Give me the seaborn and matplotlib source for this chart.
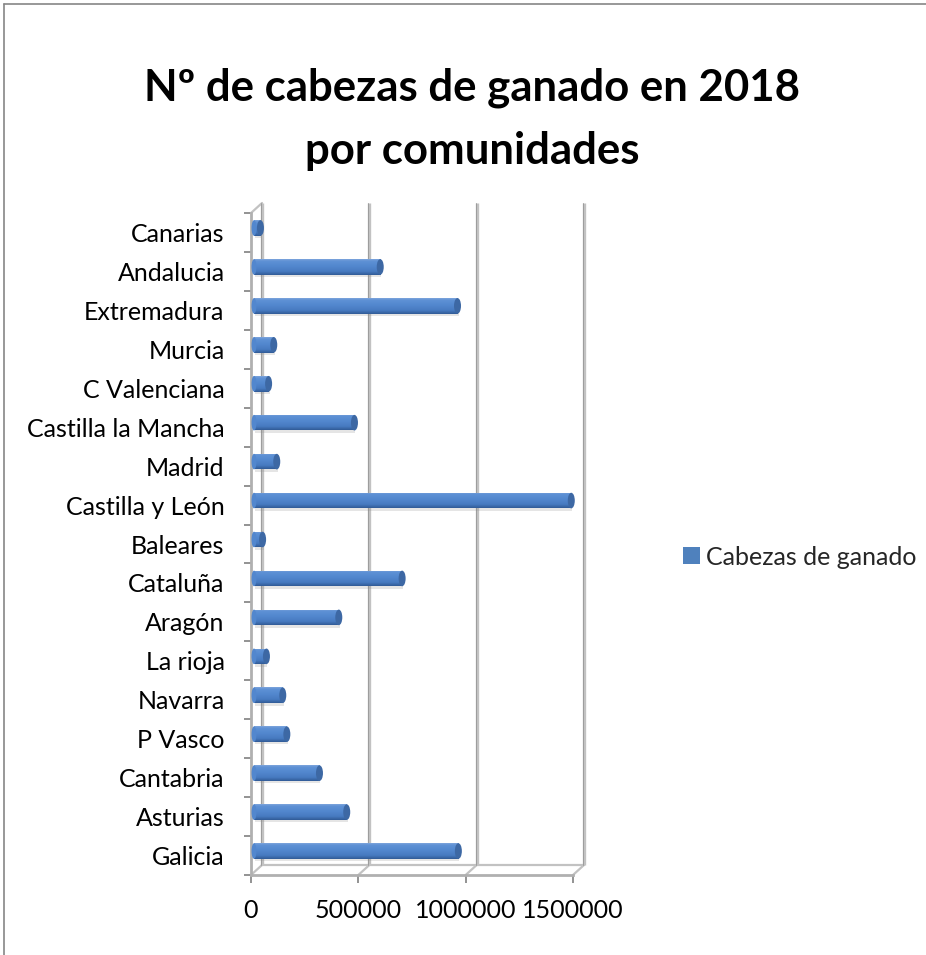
import numpy as np
import pandas as pd
import matplotlib
matplotlib.use("Agg")
import matplotlib.pyplot as plt
import seaborn as sns
from matplotlib.transforms import ScaledTranslation
from matplotlib.colors import LinearSegmentedColormap
from matplotlib.patches import Ellipse, Patch
from matplotlib.lines import Line2D

# ---- data -------------------------------------------------------------
comunidades = [
    "Canarias", "Andalucia", "Extremadura", "Murcia", "C Valenciana",
    "Castilla la Mancha", "Madrid", "Castilla y León", "Baleares",
    "Cataluña", "Aragón", "La rioja", "Navarra", "P Vasco",
    "Cantabria", "Asturias", "Galicia",
]
cabezas = [
    30000, 588000, 948000, 92000, 68000,
    468000, 106000, 1478000, 40000,
    690000, 395000, 58000, 134000, 153000,
    305000, 432000, 952000,
]
serie = "Cabezas de ganado"
x_ticks = [0, 500000, 1000000, 1500000]
titulo = "Nº de cabezas de ganado en 2018\npor comunidades"

df = pd.DataFrame({"comunidad": comunidades, "cabezas": cabezas})

# ---- style ------------------------------------------------------------
sns.set_theme(style="white")
plt.rcParams["font.family"] = ["Lato", "DejaVu Sans"]
FS = 18
W, H = 926, 955
fig = plt.figure(figsize=(W / 100, H / 100), dpi=100)

# front plane of the pseudo-3D box, in figure pixels
fx0, fx1, fy_top, fy_bot = 251, 573, 213, 875
ax = fig.add_axes([fx0 / W, (H - fy_bot) / H, (fx1 - fx0) / W, (fy_bot - fy_top) / H])

bar_col = "#4f81bd"
sns.barplot(data=df, x="cabezas", y="comunidad", order=comunidades,
            orient="h", color=bar_col, width=0.40, ax=ax,
            edgecolor="none", linewidth=0, zorder=5)

ax.set_xlim(0, 1500000)
ax.set_ylim(len(comunidades) - 0.5, -0.5)
ax.set_xlabel("")
ax.set_ylabel("")
ax.patch.set_alpha(0)

def px_off(dx, dy):
    return ScaledTranslation(dx / 100, dy / 100, fig.dpi_scale_trans)

# bars sit slightly behind the front plane
bar_off = px_off(3, 4.5)
back_off = px_off(11, 10)

grad = LinearSegmentedColormap.from_list(
    "cyl", [(0.0, "#7ea5dc"), (0.12, "#5e91d5"), (0.45, "#5287ce"),
            (0.78, "#477ac0"), (1.0, "#315b96")])
g = np.linspace(0, 1, 64).reshape(-1, 1)
cap_w = 7 * 1500000 / (fx1 - fx0)
for p in list(ax.patches):
    p.set_transform(ax.transData + bar_off)
    x0, y0, w, h = p.get_x(), p.get_y(), p.get_width(), p.get_height()
    # soft shadow under the bar
    sh = plt.Rectangle((x0, y0), w, h, transform=ax.transData + bar_off + px_off(1, -2.5),
                       fc="#8a8a8a", ec="none", alpha=0.22, zorder=4, clip_on=False)
    ax.add_patch(sh)
    im = ax.imshow(g, cmap=grad, extent=(x0, x0 + w, y0 + h, y0),
                   aspect="auto", origin="upper", zorder=6, interpolation="bilinear")
    im.set_transform(ax.transData + bar_off)
    im.set_clip_path(p)
    cap = Ellipse((x0 + w, y0 + h / 2), cap_w, h, transform=ax.transData + bar_off,
                  fc="#3d68a4", ec="none", zorder=7, clip_on=False)
    ax.add_patch(cap)
    lcap = Ellipse((x0, y0 + h / 2), cap_w * 0.7, h, transform=ax.transData + bar_off,
                   fc="#5287ce", ec="none", zorder=6.5, clip_on=False)
    ax.add_patch(lcap)

ax.set_xlim(0, 1500000)
ax.set_ylim(len(comunidades) - 0.5, -0.5)

# ---- walls / grid ----------------------------------------------------
grid_c = "#c2c2c2"
edge_c = "#969696"
xt = ax.get_xaxis_transform()
for v in x_ticks:
    ax.add_line(Line2D([v, v], [0, 1], transform=xt + back_off, color=grid_c,
                       lw=2.4, zorder=1, solid_capstyle="butt", clip_on=False))
    ax.add_line(Line2D([v, v], [0, 1], transform=xt + back_off + px_off(-0.9, 0),
                       color=edge_c, lw=0.6, zorder=1.1, clip_on=False))
    # floor diagonals from the front edge to the back wall
    ax.add_line(Line2D([0, 11 / 100], [0, 10 / 100],
                       transform=fig.dpi_scale_trans + ScaledTranslation(v, 0, xt),
                       color=grid_c, lw=1.6, zorder=1, clip_on=False))
# back edge of floor
ax.add_line(Line2D([0, 1500000], [0, 0], transform=xt + back_off, color=grid_c,
                   lw=1.6, zorder=1, clip_on=False))
# top of left wall
ax.add_line(Line2D([0, 11 / 100], [0, 10 / 100],
                   transform=fig.dpi_scale_trans + ScaledTranslation(0, 1, xt),
                   color=grid_c, lw=1.6, zorder=1, clip_on=False))

for side in ["top", "right"]:
    ax.spines[side].set_visible(False)
for side in ["left", "bottom"]:
    ax.spines[side].set_color("#b0b0b0")
    ax.spines[side].set_linewidth(2.0)
    ax.spines[side].set_zorder(2)

# ---- ticks ------------------------------------------------------------
ax.set_xticks(x_ticks)
ax.set_xticklabels([str(v) for v in x_ticks])
ax.tick_params(axis="x", which="major", direction="out", length=6, width=1.2,
               color="#808080", pad=11, labelsize=FS, labelcolor="black", bottom=True)
ax.set_yticks(range(len(comunidades)))
ax.set_yticklabels(comunidades)
ax.tick_params(axis="y", which="major", length=0, pad=19, labelsize=FS,
               labelcolor="black", left=True)
ax.set_yticks(np.arange(-0.5, len(comunidades)), minor=True)
ax.tick_params(axis="y", which="minor", direction="out", length=5, width=1.2,
               color="#808080", left=True)
ax.grid(False)

# ---- title / legend / frame ------------------------------------------
fig.text(472 / W, 1 - 119 / H, titulo, ha="center", va="center",
         fontsize=31.5, fontweight="bold", linespacing=1.7, color="black")

fig.legend(handles=[Patch(facecolor=bar_col, edgecolor="none", label=serie)],
           loc="center left", bbox_to_anchor=(683 / W, 1 - 557 / H), frameon=False,
           fontsize=FS, handlelength=0.68, handleheight=0.68, handletextpad=0.25,
           borderaxespad=0, borderpad=0)

fig.add_artist(Line2D([4 / W, 1], [1 - 4 / H, 1 - 4 / H], transform=fig.transFigure,
                      color="#868686", lw=1.2))
fig.add_artist(Line2D([4 / W, 4 / W], [0, 1 - 4 / H], transform=fig.transFigure,
                      color="#868686", lw=1.2))

fig.savefig("out.png", dpi=100, facecolor="white")
